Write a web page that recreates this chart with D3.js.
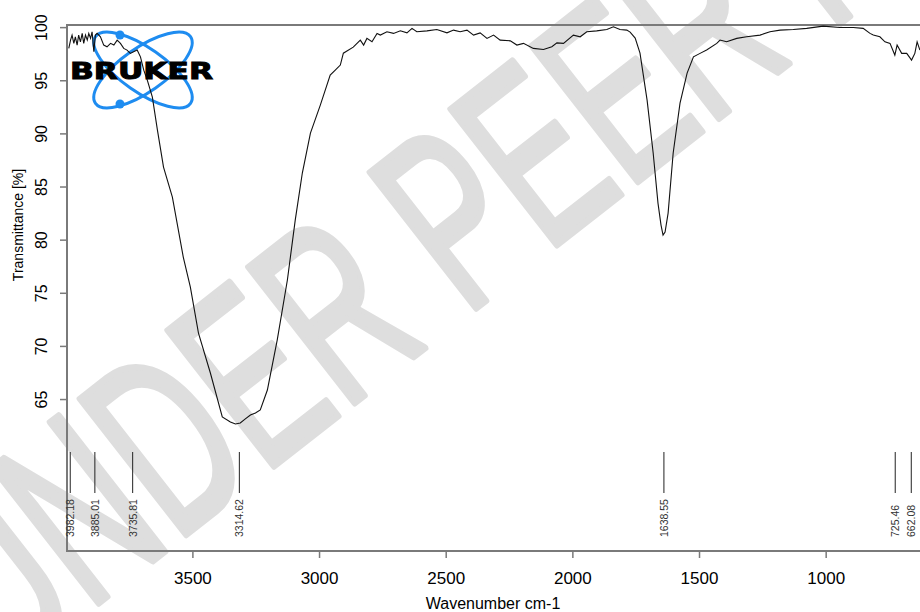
<!DOCTYPE html>
<html>
<head>
<meta charset="utf-8">
<script src="https://cdn.jsdelivr.net/npm/d3@7"></script>
<style>
  body { margin: 0; background: #fff; }
  svg { display: block; font-family: "Liberation Sans", Arial, sans-serif; }
</style>
</head>
<body>
<svg id="chart" width="920" height="612"></svg>
<script>
// spectrum (wavenumber cm-1, transmittance %)
const wavenumber = [3988, 3981, 3975, 3968, 3962, 3955, 3949, 3942, 3935, 3929, 3922, 3915, 3909, 3902, 3896,
  3889, 3883, 3876, 3863, 3850, 3837, 3823, 3810, 3797, 3784, 3771, 3758, 3745, 3732, 3718, 3705,
  3692, 3678, 3658, 3638, 3614, 3579, 3536, 3508, 3476, 3429,
  3382, 3350, 3330, 3311, 3291, 3271, 3251, 3232, 3204, 3165,
  3125, 3094, 3066, 3034, 2995, 2956, 2936, 2916, 2904, 2865,
  2837, 2824, 2811, 2791, 2771, 2758, 2732, 2706, 2679, 2653, 2633, 2614, 2574, 2535, 2495, 2469, 2443, 2416,
  2390, 2364, 2337, 2311, 2285, 2245, 2219, 2193, 2154, 2114, 2081, 2061, 2035, 1996, 1969, 1943, 1904, 1864,
  1838, 1812, 1785,
  1772, 1752, 1733, 1705, 1681, 1662, 1650, 1642, 1634, 1622, 1602, 1575, 1547,
  1522, 1496, 1470, 1430, 1417, 1391, 1351, 1312, 1259, 1220, 1180, 1128, 1075, 1010, 944, 891, 852, 825, 812,
  786, 766, 746, 727, 718, 700, 680, 661, 648, 639, 628];
const transmittance = [98.0, 98.78, 99.25, 98.47, 99.09, 98.31, 99.25, 98.62, 99.41, 98.47, 99.25, 98.78, 99.41, 98.94, 99.56,
  97.68, 99.25, 99.41, 99.09, 98.31, 98.15, 98.47, 98.31, 98.78, 98.47, 98.0, 97.84, 97.53, 97.68, 97.84, 97.2,
  95.95, 95.01, 93.42, 90.31, 86.83, 84.01, 78.36, 75.54, 71.21, 67.45,
  63.31, 62.84, 62.65, 62.75, 63.13, 63.5, 63.69, 63.97, 65.85, 70.56,
  76.2, 81.84, 86.27, 90.03, 92.66, 95.48, 95.95, 96.43, 97.55, 98.12,
  98.78, 98.31, 98.94, 98.62, 99.41, 99.25, 99.56, 99.41, 99.65, 99.46, 99.88, 99.56, 99.65, 99.78, 99.46, 99.72, 99.56, 99.72,
  99.25, 99.46, 98.94, 99.25, 98.78, 98.71, 98.31, 98.47, 98.0, 97.9, 98.15, 98.52, 98.47, 99.25, 99.09, 99.56, 99.65, 99.78,
  100.03, 99.78, 99.72,
  99.53, 98.97, 97.55, 93.13, 88.15, 83.44, 81.37, 80.43, 80.72, 82.5, 88.15, 92.85, 95.67,
  97.21, 97.53, 97.84, 98.47, 98.78, 98.62, 98.94, 99.09, 99.25, 99.56, 99.72, 99.78, 99.88, 100.09, 99.97, 99.97, 99.88, 99.41, 99.25,
  99.09, 98.62, 98.47, 97.37, 98.31, 97.53, 97.53, 96.9, 97.53, 98.62, 97.84];

const peakPositions = [3982.18, 3885.01, 3735.81, 3314.62, 1638.55, 725.46, 662.08];
const peakLabels = ["3982.18", "3885.01", "3735.81", "3314.62", "1638.55", "725.46", "662.08"];

const xTicks = [3500, 3000, 2500, 2000, 1500, 1000];
const yTicks = [65, 70, 75, 80, 85, 90, 95, 100];

const svg = d3.select("#chart");
const margin = { left: 67, right: 927, top: 25, bottom: 551 };

const x = d3.scaleLinear().domain([3995, 600]).range([margin.left, margin.right]);
const y = d3.scaleLinear().domain([50.7, 100.2]).range([margin.bottom, margin.top]);

// watermark
svg.append("text")
  .attr("transform", "translate(0,680) rotate(-38) scale(0.616,1)")
  .attr("font-size", 250)
  .attr("fill", "#dedede")
  .attr("stroke", "#dedede")
  .attr("stroke-width", 7)
  .attr("stroke-linejoin", "round")
  .text("UNDER PEER REVIEW");

// logo
const logo = svg.append("g").attr("transform", "translate(143,70)");
[35, -35].forEach(a => {
  logo.append("ellipse")
    .attr("rx", 58).attr("ry", 22)
    .attr("transform", `rotate(${a})`)
    .attr("fill", "none")
    .attr("stroke", "#1e8cf0")
    .attr("stroke-width", 3);
});
logo.selectAll("circle").data([-35, 34]).join("circle")
  .attr("cx", -23).attr("cy", d => d).attr("r", 4.5).attr("fill", "#1e8cf0");

// box
const axisColor = "#7a7a7a";
svg.append("path")
  .attr("d", `M${margin.right},${margin.top}H${margin.left}V${margin.bottom}H${margin.right}`)
  .attr("fill", "none")
  .attr("stroke", axisColor)
  .attr("stroke-width", 2);

// spectrum
const line = d3.line()
  .x((d, i) => x(wavenumber[i]))
  .y(d => y(d));
svg.append("path")
  .datum(transmittance)
  .attr("d", line)
  .attr("fill", "none")
  .attr("stroke", "#111")
  .attr("stroke-width", 1.1);

// logo text on top of the curve
svg.append("text")
  .attr("x", 70).attr("y", 79)
  .attr("textLength", 143)
  .attr("lengthAdjust", "spacingAndGlyphs")
  .attr("font-family", "DejaVu Sans")
  .attr("font-weight", "bold")
  .attr("font-size", 23)
  .attr("fill", "#000")
  .attr("stroke", "#000")
  .attr("stroke-width", 1)
  .text("BRUKER");

// axes
const xAxis = svg.append("g")
  .attr("transform", `translate(0,${margin.bottom})`)
  .call(d3.axisBottom(x).tickValues(xTicks).tickSize(7).tickPadding(14).tickFormat(d3.format("d")));
xAxis.select(".domain").remove();
xAxis.selectAll("line").attr("stroke", axisColor).attr("stroke-width", 1.5);
xAxis.selectAll("text").attr("font-size", 17).attr("fill", "#000")
  .attr("font-family", "Liberation Sans");

const yAxis = svg.append("g")
  .attr("transform", `translate(${margin.left},0)`)
  .call(d3.axisLeft(y).tickValues(yTicks).tickSize(7).tickFormat(d3.format("d")));
yAxis.select(".domain").remove();
yAxis.selectAll("line").attr("stroke", axisColor).attr("stroke-width", 1.5);
yAxis.selectAll("text")
  .attr("x", null).attr("dy", null)
  .attr("text-anchor", "middle")
  .attr("transform", "translate(-20,0) rotate(-90)")
  .attr("font-size", 16).attr("fill", "#000")
  .attr("font-family", "Liberation Sans");

// axis titles
svg.append("text")
  .attr("transform", "translate(23,225) rotate(-90)")
  .attr("text-anchor", "middle")
  .attr("font-size", 14)
  .text("Transmittance [%]");
svg.append("text")
  .attr("x", 493).attr("y", 609)
  .attr("text-anchor", "middle")
  .attr("font-size", 16)
  .text("Wavenumber cm-1");

// peak markers
const peaks = svg.append("g").selectAll("g")
  .data(peakPositions)
  .join("g")
  .attr("transform", d => `translate(${x(d)},0)`);
peaks.append("line")
  .attr("y1", 452).attr("y2", 493)
  .attr("stroke", "#222").attr("stroke-width", 1);
peaks.append("text")
  .attr("transform", "translate(4,537) rotate(-90)")
  .attr("font-size", 10.5)
  .attr("fill", "#333")
  .text((d, i) => peakLabels[i]);
</script>
</body>
</html>
